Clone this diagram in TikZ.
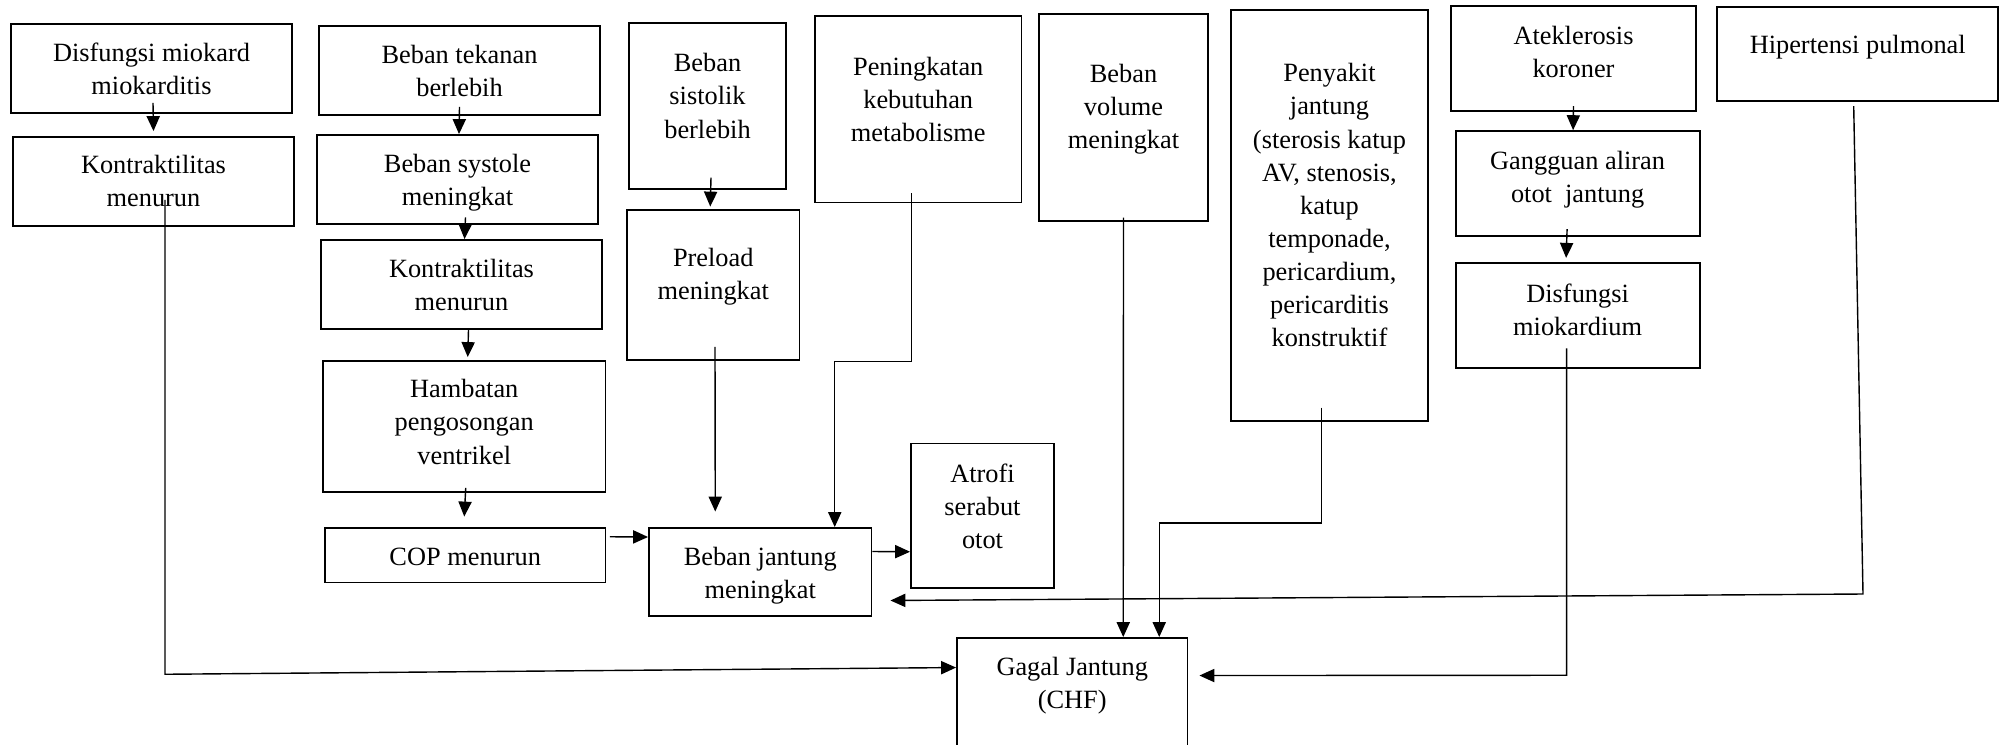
\documentclass[tikz,border=0pt]{standalone}
\usepackage{fontspec}
\setmainfont{Liberation Serif}
\usetikzlibrary{arrows.meta}

\begin{document}
\begin{tikzpicture}[
  x=0.02cm,
  y=-0.02cm,
  box/.style={draw, line width=1.1pt, inner sep=0pt},
  txt/.style={align=center, inner sep=0pt, anchor=north,
    font=\fontsize{15pt}{18.8pt}\selectfont},
  link/.style={line width=0.8pt},
  arr/.style={link, -{Triangle[length=8.5pt, width=7.5pt]}}
]
  % ---- page frame, in pixels of the scanned chart
  \useasboundingbox (0,0) rectangle (2005,744);

  % ---- first column: myocarditis ---------------------------------------
  \node[box, minimum width=5.62cm, minimum height=1.78cm] (dismio) at (151.5,68.5) {};
  \node[txt] (dismio-t) at (151.5,42.7) {Disfungsi miokard\\miokarditis};
  \node[box, minimum width=5.62cm, minimum height=1.78cm] (kontra) at (153.5,181.5) {};
  \node[txt] (kontra-t) at (153.5,155) {Kontraktilitas\\menurun};

  % ---- second column: pressure load ------------------------------------
  \node[box, minimum width=5.62cm, minimum height=1.78cm] (tekanan) at (459.5,70.5) {};
  \node[txt] (tekanan-t) at (459.5,45) {Beban tekanan\\berlebih};
  \node[box, minimum width=5.62cm, minimum height=1.78cm] (systole) at (457.5,179.5) {};
  \node[txt] (systole-t) at (457.5,154) {Beban systole\\meningkat};
  \node[box, minimum width=5.62cm, minimum height=1.78cm] (kontrb) at (461.5,284.5) {};
  \node[txt] (kontrb-t) at (461.5,259) {Kontraktilitas\\menurun};
  \node[box, minimum width=5.65cm, minimum height=2.62cm] (hambatan) at (464.25,426.5) {};
  \node[txt] (hambatan-t) at (464.25,379.3) {Hambatan\\pengosongan\\ventrikel};
  \node[box, minimum width=5.61cm, minimum height=1.09cm] (cop) at (465.25,555.25) {};
  \node[txt] (cop-t) at (465.25,547.3) {COP menurun};

  % ---- middle: heart load and fibre atrophy ----------------------------
  \node[box, minimum width=4.45cm, minimum height=1.76cm] (jantung) at (760.25,572) {};
  \node[txt] (jantung-t) at (760.25,546.7) {Beban jantung\\meningkat};
  \node[box, minimum width=2.86cm, minimum height=2.89cm] (atrofi) at (982.5,515.75) {};
  \node[txt] (atrofi-t) at (982.5,463.3) {Atrofi\\serabut\\otot};

  % ---- upper middle causes ---------------------------------------------
  \node[box, minimum width=3.14cm, minimum height=3.33cm] (sistolik) at (707.5,105.85) {};
  \node[txt] (sistolik-t) at (707.5,53.3) {Beban\\sistolik\\berlebih};
  \node[box, minimum width=3.45cm, minimum height=3.0cm] (preload) at (713.25,285) {};
  \node[txt] (preload-t) at (713.25,248.3) {Preload\\meningkat};
  \node[box, minimum width=4.13cm, minimum height=3.73cm] (metab) at (918.25,109.25) {};
  \node[txt] (metab-t) at (918.25,56.7) {Peningkatan\\kebutuhan\\metabolisme};
  \node[box, minimum width=3.38cm, minimum height=4.13cm] (volume) at (1123.5,117.5) {};
  \node[txt] (volume-t) at (1123.5,64) {Beban\\volume\\meningkat};
  \node[box, minimum width=3.93cm, minimum height=8.21cm] (penyakit) at (1329.45,215.35) {};
  \node[txt] (penyakit-t) at (1329.45,63.3)
    {Penyakit\\jantung\\(sterosis katup\\AV, stenosis,\\katup\\temponade,\\pericardium,\\pericarditis\\konstruktif};

  % ---- right: coronary chain and pulmonary hypertension ----------------
  \node[box, minimum width=4.9cm, minimum height=2.09cm] (ateklerosis) at (1573.5,58.35) {};
  \node[txt] (ateklerosis-t) at (1573.5,26) {Ateklerosis\\koroner};
  \node[box, minimum width=4.88cm, minimum height=2.09cm] (gangguan) at (1577.6,183.35) {};
  \node[txt] (gangguan-t) at (1577.6,150.7) {Gangguan aliran\\otot\ \ jantung};
  \node[box, minimum width=4.88cm, minimum height=2.1cm] (disfmiok) at (1577.6,315.8) {};
  \node[txt] (disfmiok-t) at (1577.6,283.3) {Disfungsi\\miokardium};
  \node[box, minimum width=5.63cm, minimum height=1.87cm] (hipertensi) at (1857.7,54) {};
  \node[txt] (hipertensi-t) at (1857.7,35) {Hipertensi pulmonal};

  % ---- outcome, its lower edge runs off the page -----------------------
  \node[box, minimum width=4.61cm, minimum height=2.64cm] (gagal) at (1072.25,704) {};
  \node[txt] (gagal-t) at (1072.25,656.7) {Gagal Jantung\\(CHF)};

  % ---- short arrows down the columns -----------------------------------
  \draw[arr] ([xshift=0.03cm,yshift=0.22cm]dismio.south) -- ([yshift=0.1cm]kontra.north);
  \draw[arr] ([yshift=0.18cm]tekanan.south) -- ([xshift=0.03cm]systole.north);
  \draw[arr] ([xshift=0.16cm,yshift=0.15cm]systole.south) -- ([xshift=0.06cm]kontrb.north);
  \draw[arr] ([xshift=0.14cm]kontrb.south) -- ([xshift=0.07cm,yshift=0.06cm]hambatan.north);
  \draw[arr] ([xshift=0.03cm,yshift=0.1cm]hambatan.south) -- ([xshift=-0.02cm,yshift=0.21cm]cop.north);
  \draw[arr] ([xshift=0.07cm,yshift=0.25cm]sistolik.south) -- ([xshift=-0.06cm,yshift=0.05cm]preload.north);
  \draw[arr] ([yshift=0.11cm]ateklerosis.south) -- ([xshift=-0.09cm]gangguan.north);
  \draw[arr] ([xshift=-0.21cm,yshift=0.15cm]gangguan.south) -- ([xshift=-0.23cm,yshift=0.09cm]disfmiok.north);

  % ---- into the heart load box -----------------------------------------
  \draw[arr] ([xshift=0.07cm,yshift=0.37cm]cop.east) -- ([yshift=0.7cm]jantung.west);
  \draw[arr] ([xshift=0.035cm,yshift=0.28cm]preload.south) -- ([xshift=-0.9cm,yshift=0.31cm]jantung.north);
  \draw[arr] ([xshift=-0.13cm,yshift=0.2cm]metab.south) -- ++(0,168) -| ([xshift=1.49cm]jantung.north);
  \draw[arr] ([yshift=0.41cm]jantung.east) -- ([yshift=-0.72cm]atrofi.west);
  \coordinate (hipcorner) at (1863,594);
  \draw[arr] ([xshift=-0.08cm,yshift=-0.09cm]hipertensi.south) -- (hipcorner)
    -- ([xshift=0.36cm,yshift=-0.57cm]jantung.east);

  % ---- into heart failure ----------------------------------------------
  \draw[arr] ([xshift=0.23cm,yshift=0.54cm]kontra.south) -- ++(0,474.3)
    -- ([yshift=-0.61cm]gagal.north west);
  \draw[arr] ([yshift=0.08cm]volume.south) -- ([xshift=1.02cm]gagal.north);
  \draw[arr] ([xshift=-0.16cm,yshift=0.28cm]penyakit.south) -- ++(0,115.3)
    -| ([xshift=1.74cm]gagal.north);
  \draw[arr] ([xshift=-0.22cm,yshift=0.42cm]disfmiok.south) -- ++(0,327)
    -- ([xshift=0.22cm,yshift=-0.77cm]gagal.north east);
\end{tikzpicture}
\end{document}
